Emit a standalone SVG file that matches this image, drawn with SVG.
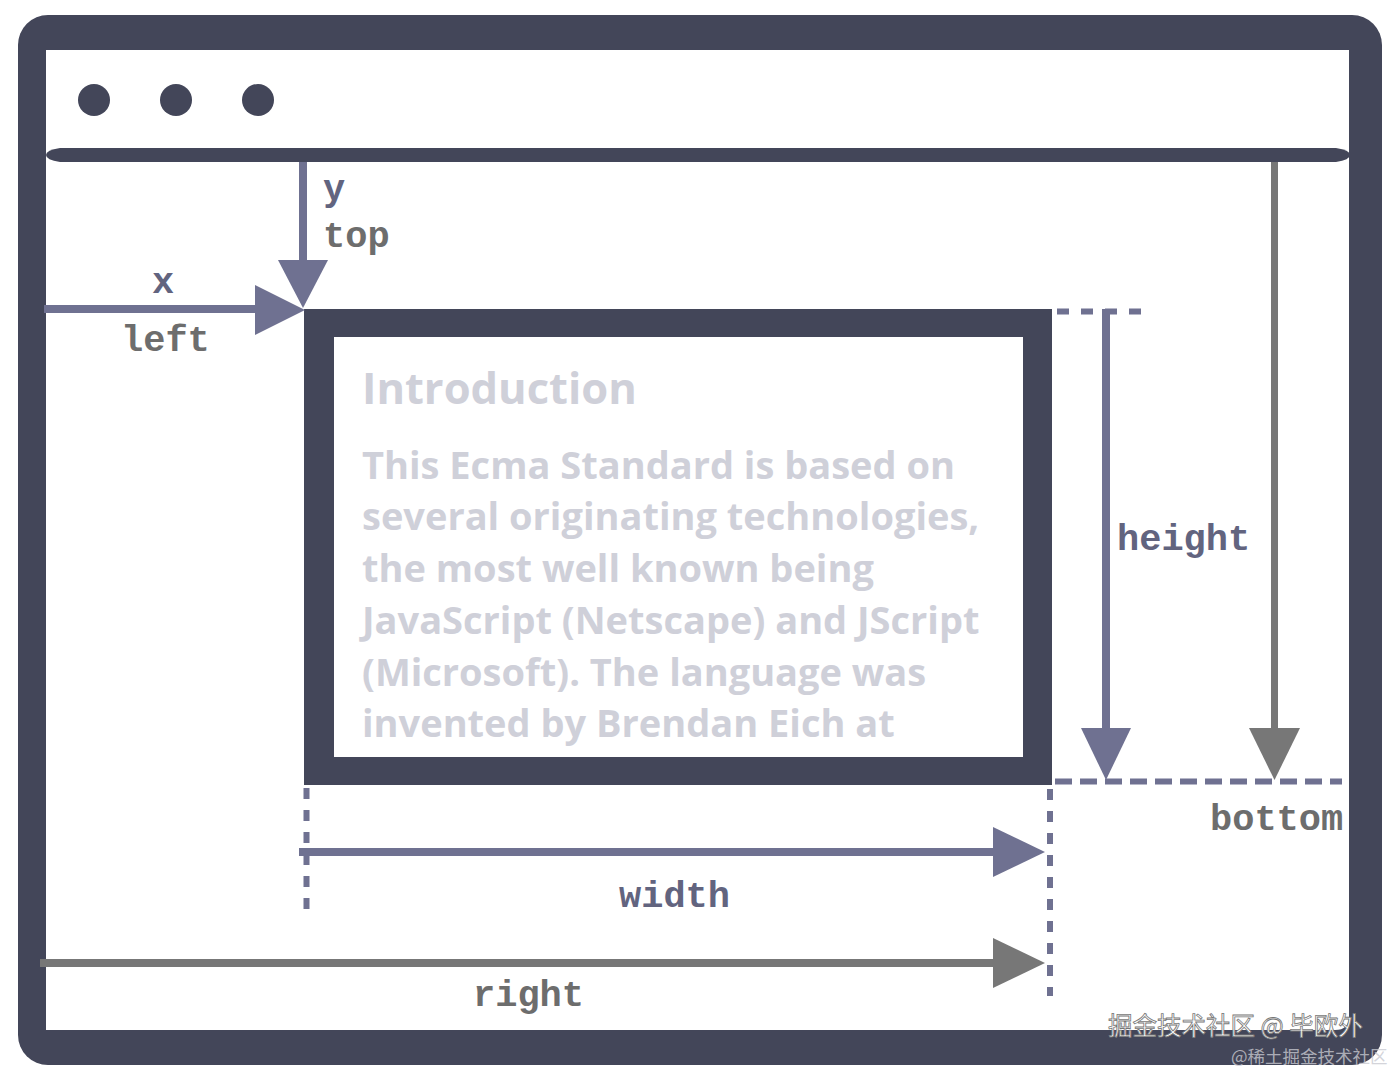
<svg xmlns="http://www.w3.org/2000/svg" width="1396" height="1072" viewBox="0 0 1396 1072">
<style>
.dark{fill:#434659}
.slate{stroke:#6f7191;fill:none}
.grey{stroke:#777777;fill:none}
.ahs{fill:#6f7191}
.ahg{fill:#777777}
.lbl{font-family:"Liberation Mono","DejaVu Sans Mono",monospace;font-weight:700;font-size:37px}
.ls{fill:#62647f}
.lg{fill:#6d6d6d}
.para{font-family:"Open Sans","Noto Sans",sans-serif;font-weight:700;fill:#cfd0d9}
.dash{stroke:#6f7191;fill:none;stroke-width:6}
</style>
<rect width="1396" height="1072" fill="#ffffff"/>
<g id="window">
<rect x="18" y="15" width="1364" height="1050" rx="30" class="dark"/>
<path d="M46 50 H1349 V1016 Q1349 1030 1335 1030 H46 Z" fill="#ffffff"/>
<circle cx="94" cy="100" r="16" class="dark"/>
<circle cx="176" cy="100" r="16" class="dark"/>
<circle cx="258" cy="100" r="16" class="dark"/>
<path d="M60 148 H1336 Q1350 150 1350 155 Q1350 160 1336 162 H60 Q46 160 46 155 Q46 150 60 148 Z" class="dark"/>
</g>
<g id="element">
<rect x="304" y="309" width="748" height="476" class="dark"/>
<rect x="334" y="337" width="689" height="420" fill="#ffffff"/>
<text x="362" y="404" class="para" font-size="43.5">Introduction</text>
<g class="para" font-size="38">
<text x="362" y="479">This Ecma Standard is based on</text>
<text x="362" y="530">several originating technologies,</text>
<text x="362" y="582">the most well known being</text>
<text x="362" y="634">JavaScript (Netscape) and JScript</text>
<text x="362" y="686">(Microsoft). The language was</text>
<text x="362" y="737">invented by Brendan Eich at</text>
</g>
</g>
<g id="connectors">
<line x1="303" y1="162" x2="303" y2="265" class="slate" stroke-width="8"/>
<polygon points="278,260 328,260 303,308" class="ahs"/>
<line x1="44" y1="309" x2="260" y2="309" class="slate" stroke-width="8"/>
<polygon points="255,285 255,335 305,310" class="ahs"/>
<line x1="1057" y1="311.5" x2="1145" y2="311.5" class="dash" stroke-dasharray="12 12"/>
<line x1="1106" y1="309" x2="1106" y2="733" class="slate" stroke-width="8"/>
<polygon points="1081,728 1131,728 1106,780" class="ahs"/>
<line x1="1274.5" y1="162" x2="1274.5" y2="733" class="grey" stroke-width="7"/>
<polygon points="1249,728 1300,728 1274.5,780" class="ahg"/>
<line x1="1055" y1="781.5" x2="1342" y2="781.5" class="dash" stroke-dasharray="17 8"/>
<line x1="1050" y1="789" x2="1050" y2="996" class="dash" stroke-dasharray="11 11"/>
<line x1="306.5" y1="788" x2="306.5" y2="918" class="dash" stroke-dasharray="11 11"/>
<line x1="299" y1="852" x2="998" y2="852" class="slate" stroke-width="8"/>
<polygon points="993,827 993,877 1045,852" class="ahs"/>
<line x1="40" y1="963" x2="998" y2="963" class="grey" stroke-width="8"/>
<polygon points="993,938 993,988 1045,963" class="ahg"/>
</g>
<g id="labels">
<text x="323" y="200" class="lbl ls">y</text>
<text x="323" y="247" class="lbl lg">top</text>
<text x="152" y="293" class="lbl ls">x</text>
<text x="121" y="351" class="lbl lg">left</text>
<text x="1117" y="550" class="lbl ls">height</text>
<text x="1210" y="830" class="lbl lg">bottom</text>
<text x="619" y="907" class="lbl ls">width</text>
<text x="473" y="1006" class="lbl lg">right</text>
</g>
<g id="watermark" font-family="'Noto Sans CJK SC',sans-serif">
<text x="1108" y="1035" font-size="24.5" fill="#ffffff" stroke="#777777" stroke-width="0.8">掘金技术社区 @ 毕欧外</text>
<text x="1231" y="1063" font-size="17.5" fill="#c8c9d0" fill-opacity="0.8">@稀土掘金技术社区</text>
</g>
</svg>
